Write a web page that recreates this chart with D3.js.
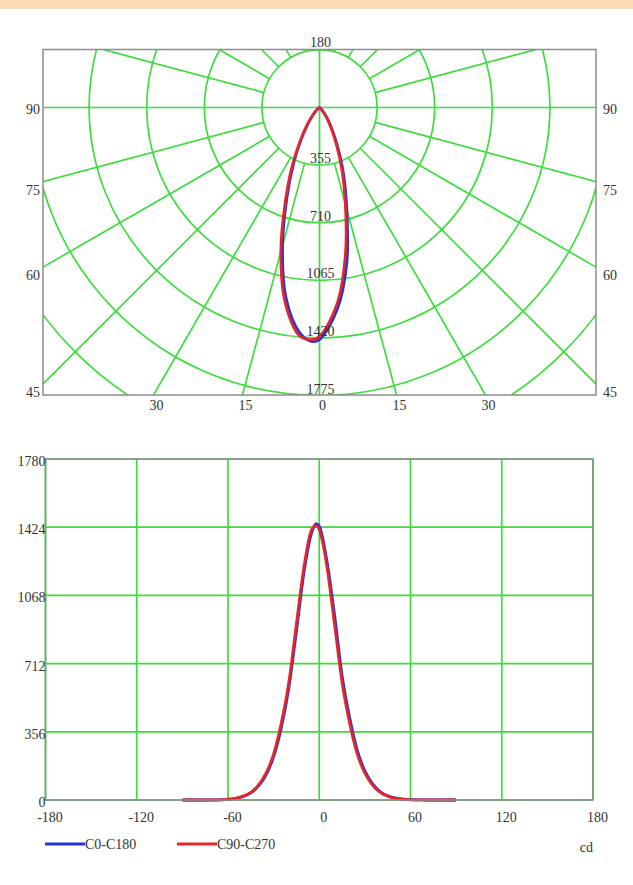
<!DOCTYPE html>
<html>
<head>
<meta charset="utf-8">
<script src="https://cdn.jsdelivr.net/npm/d3@7"></script>
<style>
  html, body { margin: 0; padding: 0; background: #fff; }
  svg { display: block; }
  text { font-family: "Liberation Serif", "DejaVu Serif", serif; fill: #333; }
</style>
</head>
<body>
<svg id="chart" width="633" height="885"></svg>
<script>
// ---------- data ----------
const angles = [-90,-85,-80,-75,-70,-65,-60,-55,-50,-45,-40,-35,-30,-25,-20,-15,-10,-5,-2,0,5,10,15,20,25,30,35,40,45,50,55,60,65,70,75,80,85,90];
const c0c180 = [0,0,0,0,0,1,3,8,18,37,72,130,225,375,585,880,1190,1395,1442,1430,1250,970,650,430,260,152,86,44,22,11,4,2,1,0,0,0,0,0];
const c90c270 = [0,0,0,0,1,1,4,9,20,40,78,140,240,400,615,920,1220,1412,1432,1412,1220,920,615,400,240,140,78,40,20,9,4,1,1,0,0,0,0,0];
const seriesNames = ["C0-C180", "C90-C270"];
const seriesColors = ["#2433e0", "#e3262b"];

const ringTicks = [355, 710, 1065, 1420, 1775];
const polarMax = 1775;
const sideAngleTicks = [90, 75, 60, 45];
const bottomAngleTicks = [30, 15, 0];
const topAngleLabel = "180";

const xTicks = [-180, -120, -60, 0, 60, 120, 180];
const yTicks = [0, 356, 712, 1068, 1424, 1780];
const unitLabel = "cd";

// ---------- setup ----------
const svg = d3.select("#chart");
const green = "#3ddd3d";
const border = "#8c8c8c";
const series = [c0c180, c90c270];
const fs = "14px";

svg.append("rect").attr("x", 0).attr("y", 0).attr("width", 633).attr("height", 9).attr("fill", "#fedcb4");

// ---------- polar chart ----------
const P = { left: 43, right: 596, top: 49.5, bottom: 395 };
const cx = (P.left + P.right) / 2, cy = 107.5;
const r = d3.scaleLinear().domain([0, polarMax]).range([0, 288]);
const ringStep = r(ringTicks[0]);

svg.append("clipPath").attr("id", "pclip").append("rect")
  .attr("x", P.left).attr("y", P.top).attr("width", P.right - P.left).attr("height", P.bottom - P.top);

const pg = svg.append("g").attr("clip-path", "url(#pclip)");
const ringRadii = d3.range(1, 8).map(k => k * ringStep);
pg.selectAll("circle.ring").data(ringRadii).join("circle")
  .attr("cx", cx).attr("cy", cy).attr("r", d => d)
  .attr("fill", "none").attr("stroke", green).attr("stroke-width", 1.7);
const spokeAngles = d3.range(0, 360, 15);
pg.selectAll("line.spoke").data(spokeAngles).join("line")
  .attr("x1", a => (a % 90 === 0 ? 0 : ringStep) * Math.sin(a * Math.PI / 180) + cx)
  .attr("y1", a => (a % 90 === 0 ? 0 : ringStep) * Math.cos(a * Math.PI / 180) + cy)
  .attr("x2", a => 700 * Math.sin(a * Math.PI / 180) + cx)
  .attr("y2", a => 700 * Math.cos(a * Math.PI / 180) + cy)
  .attr("stroke", green).attr("stroke-width", 1.7);

const radial = d3.lineRadial()
  .angle(d => Math.PI - d[0] * Math.PI / 180)
  .radius(d => r(d[1]))
  .curve(d3.curveCatmullRom);
series.forEach((vals, i) => {
  pg.append("path")
    .datum(angles.map((a, j) => [a, vals[j]]))
    .attr("transform", `translate(${cx},${cy})`)
    .attr("d", radial)
    .attr("fill", "none").attr("stroke", seriesColors[i]).attr("stroke-width", 2.8);
});

svg.append("rect").attr("x", P.left).attr("y", P.top).attr("width", P.right - P.left).attr("height", P.bottom - P.top)
  .attr("fill", "none").attr("stroke", border).attr("stroke-width", 1.5);

svg.selectAll("text.ring").data(ringTicks).join("text")
  .attr("x", cx + 1).attr("y", d => cy + r(d) - 2)
  .attr("text-anchor", "middle").attr("font-size", fs).text(d => d);
svg.append("text").attr("x", cx + 1).attr("y", 47).attr("text-anchor", "middle").attr("font-size", fs).text(topAngleLabel);
sideAngleTicks.forEach(t => {
  const rad = t * Math.PI / 180;
  const yy = cy + (cx - P.left) / Math.tan(rad);
  const off = t === 90 ? 6 : 13;
  svg.append("text").attr("x", P.left - 3).attr("y", yy + off).attr("text-anchor", "end").attr("font-size", fs).text(t);
  svg.append("text").attr("x", P.right + 7).attr("y", yy + off).attr("text-anchor", "start").attr("font-size", fs).text(t);
});
bottomAngleTicks.forEach(t => {
  const dx = (P.bottom - cy) * Math.tan(t * Math.PI / 180);
  [-1, 1].forEach(s => {
    if (t === 0 && s === 1) return;
    svg.append("text").attr("x", cx + s * dx + 3).attr("y", P.bottom + 15)
      .attr("text-anchor", "middle").attr("font-size", fs).text(t);
  });
});

// ---------- linear chart ----------
const L = { left: 45.5, right: 593, top: 459, bottom: 800 };
const x = d3.scaleLinear().domain([-180, 180]).range([L.left, L.right]);
const y = d3.scaleLinear().domain([0, 1780]).range([L.bottom, L.top]);

const lg = svg.append("g");
lg.selectAll("line.vg").data(xTicks).join("line")
  .attr("x1", d => x(d)).attr("x2", d => x(d)).attr("y1", L.top).attr("y2", L.bottom)
  .attr("stroke", green).attr("stroke-width", 1.7);
lg.selectAll("line.hg").data(yTicks).join("line")
  .attr("x1", L.left).attr("x2", L.right).attr("y1", d => y(d)).attr("y2", d => y(d))
  .attr("stroke", green).attr("stroke-width", 1.7);

const line = d3.line().x(d => x(d[0])).y(d => y(d[1])).curve(d3.curveMonotoneX);
series.forEach((vals, i) => {
  lg.append("path")
    .datum(angles.map((a, j) => [a, vals[j]]))
    .attr("d", line)
    .attr("fill", "none").attr("stroke", seriesColors[i]).attr("stroke-width", 2.8);
});

svg.append("rect").attr("x", L.left).attr("y", L.top).attr("width", L.right - L.left).attr("height", L.bottom - L.top)
  .attr("fill", "none").attr("stroke", border).attr("stroke-width", 1.5);

const xAxis = svg.append("g").attr("transform", `translate(4,${L.bottom + 6})`)
  .call(d3.axisBottom(x).tickValues(xTicks).tickSize(0).tickFormat(d => d));
const yAxis = svg.append("g").attr("transform", `translate(${L.left + 1},2)`)
  .call(d3.axisLeft(y).tickValues(yTicks).tickSize(0).tickFormat(d => d));
[xAxis, yAxis].forEach(g => {
  g.select(".domain").remove();
  g.selectAll("text").attr("font-family", "Liberation Serif, DejaVu Serif, serif")
    .attr("font-size", fs).attr("fill", "#333").style("fill", "#333");
});
yAxis.selectAll("text").attr("dx", 0).attr("x", -1);
xAxis.selectAll("text").attr("dy", "0.9em");

const legendX = [45, 177];
seriesNames.forEach((n, i) => {
  svg.append("line").attr("x1", legendX[i]).attr("x2", legendX[i] + 40).attr("y1", 844).attr("y2", 844)
    .attr("stroke", seriesColors[i]).attr("stroke-width", 3);
  svg.append("text").attr("x", legendX[i] + 40).attr("y", 849).attr("font-size", fs).text(n);
});
svg.append("text").attr("x", 593).attr("y", 852).attr("text-anchor", "end").attr("font-size", fs).text(unitLabel);
</script>
</body>
</html>
